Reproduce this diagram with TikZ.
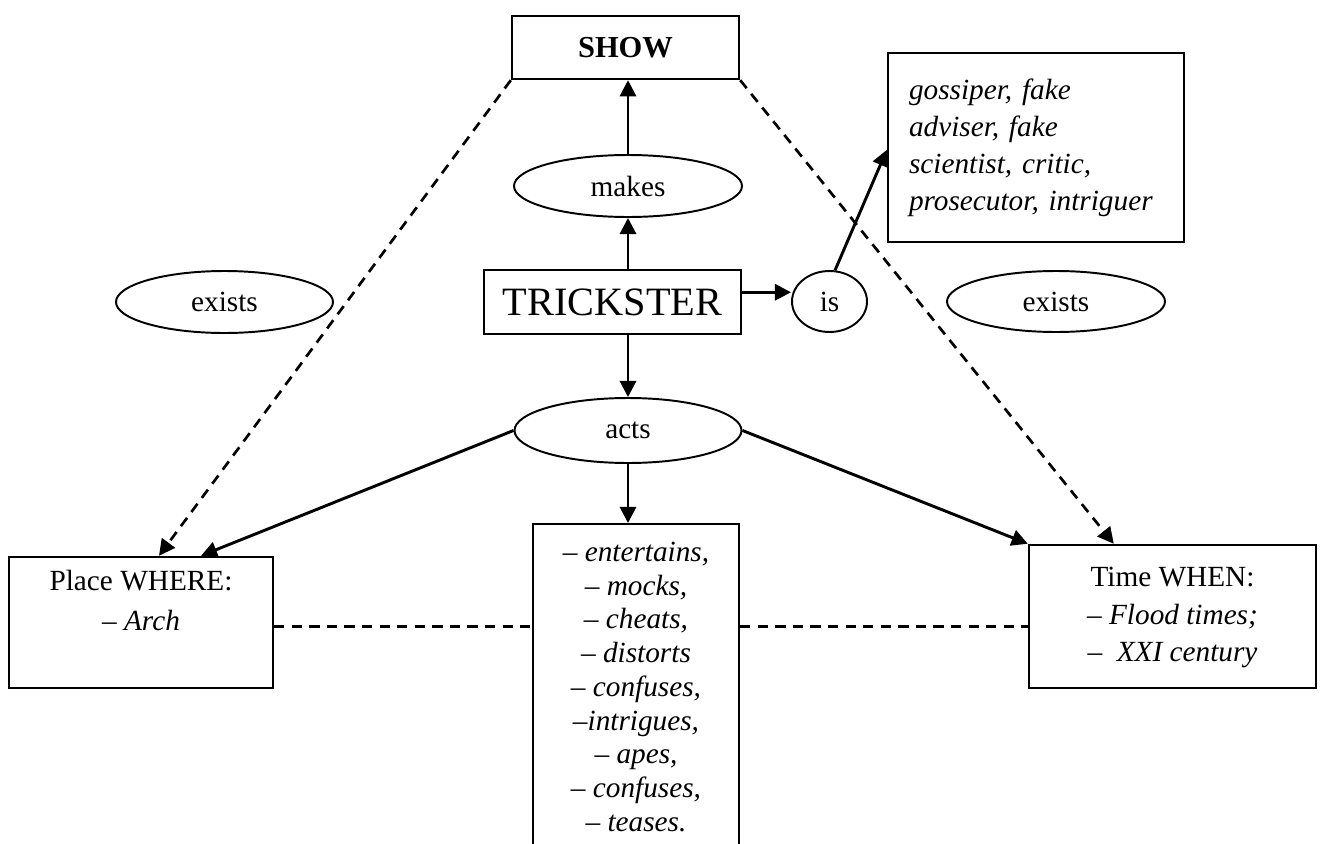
\documentclass[tikz,border=0pt]{standalone}
\usepackage{fontspec}
\setmainfont{Liberation Serif}
\usetikzlibrary{arrows.meta,shapes.geometric}
\begin{document}
\begin{tikzpicture}[x=0.41pt,y=-0.41pt,
  box/.style={draw,line width=1pt,rectangle,inner sep=0pt,align=center},
  oval/.style={draw,line width=0.8pt,ellipse,inner sep=0pt,font=\fontsize{12}{14}\selectfont},
  arr/.style={line width=1.2pt,-{Triangle[length=6.6pt,width=6.6pt]}},
  dsh/.style={line width=1.1pt,dash pattern=on 4.2pt off 3pt},
  darr/.style={dsh,-{Triangle[length=6.6pt,width=6.6pt]}}]
\useasboundingbox (0,0) rectangle (1322,844);
\clip (0,0) rectangle (1322,844);

% central chain
\node[box,minimum width=227*0.41pt,minimum height=63*0.41pt,
      font=\bfseries\fontsize{12.5}{15}\selectfont] (show) at (625.5,47.5) {SHOW};
\node[oval,minimum width=228*0.41pt,minimum height=62*0.41pt] (makes) at (628,186) {makes};
\node[box,minimum width=257*0.41pt,minimum height=64*0.41pt,
      font=\fontsize{16.5}{20}\selectfont] (trick) at (612.5,302) {TRICKSTER};
\node[oval,minimum width=227*0.41pt,minimum height=65*0.41pt] (acts) at (628,430.5) {acts};

% side ovals
\node[oval,minimum width=75*0.41pt,minimum height=61*0.41pt] (is) at (829.5,301.5) {is};
\node[oval,minimum width=217*0.41pt,minimum height=62*0.41pt] (exL) at (224.5,302) {exists};
\node[oval,minimum width=218*0.41pt,minimum height=61*0.41pt] (exR) at (1056,301.5) {exists};

% roles of the trickster
\node[box,align=left,text width=254*0.41pt,inner xsep=21*0.41pt,
      minimum height=189*0.41pt,font=\fontsize{12}{15.2}\selectfont\itshape]
  (roles) at (1036,147.5)
  {\strut gossiper, fake\\\strut adviser, fake\\\strut scientist, critic,\\\strut prosecutor, intriguer};

% place and time
\node[box,minimum width=264*0.41pt,minimum height=131*0.41pt,
      font=\fontsize{12}{16.4}\selectfont] (place) at (141,622.5)
  {\strut Place WHERE:\\\strut – \textit{Arch}\\\strut};
\node[box,minimum width=287*0.41pt,minimum height=143*0.41pt,
      font=\fontsize{12}{15.4}\selectfont] (time) at (1172.5,616.5)
  {\strut Time WHEN:\\\strut – \textit{Flood times;}\\\strut –\ \ \textit{XXI century}};

% actions
\node[box,anchor=north,minimum width=206*0.41pt,inner ysep=13.4*0.41pt,
      font=\fontsize{12}{13.84}\selectfont] (deeds) at (636,523)
  {\strut – \textit{entertains,}\\\strut – \textit{mocks,}\\\strut – \textit{cheats,}\\
   \strut – \textit{distorts}\\\strut – \textit{confuses,}\\\strut –\textit{intrigues,}\\
   \strut – \textit{apes,}\\\strut – \textit{confuses,}\\\strut – \textit{teases.}};

% solid connectors
\draw[arr] (makes.north) -- (show.south -| makes.north);
\draw[arr] (trick.north -| makes.south) -- (makes.south);
\draw[arr] (trick.south -| acts.north) -- (acts.north);
\draw[arr] (acts.south) -- (deeds.north -| acts.south);
\draw[arr] ([yshift=4pt]trick.east) -- ([yshift=4pt]trick.east -| is.west);
\draw[arr] (is.80) -- ([yshift=-1pt]roles.west);
\draw[arr] (acts.west) -- ([xshift=60*0.41pt]place.north);
\draw[arr] (acts.east) -- (time.north west);

% dashed connectors
\draw[darr] (show.south west) -- ([xshift=18*0.41pt]place.north);
\draw[darr] (show.south east) -- ([xshift=86*0.41pt]time.north west);
\draw[dsh] ([yshift=-1.5pt]place.east) -- ([yshift=-1.5pt]place.east -| deeds.west);
\draw[dsh] ([yshift=-1.5pt]place.east -| deeds.east) -- ([yshift=-1.5pt]place.east -| time.west);
\end{tikzpicture}
\end{document}
